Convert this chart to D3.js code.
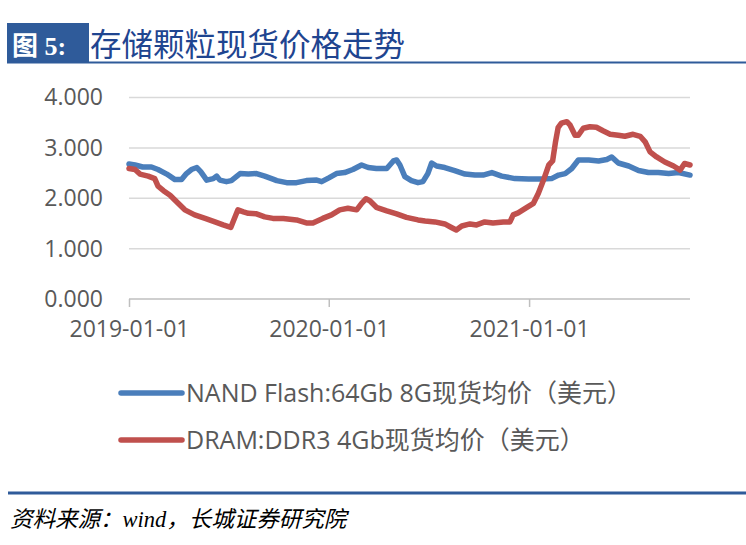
<!DOCTYPE html>
<html>
<head>
<meta charset="utf-8">
<script src="https://cdn.jsdelivr.net/npm/d3@7.9.0/dist/d3.min.js"></script>
<style>
  html, body { margin: 0; padding: 0; background: #fff; }
  svg { display: block; }
</style>
</head>
<body>
<svg id="chart"></svg>
<script>
// NAND Flash 64Gb 8G spot price (USD)
const nandDates = ['2019-01-01','2019-01-12','2019-01-26','2019-02-11','2019-02-23','2019-03-11','2019-03-26','2019-04-07','2019-04-16','2019-04-25','2019-05-05','2019-05-12','2019-05-23','2019-06-04','2019-06-10','2019-06-16','2019-06-28','2019-07-07','2019-07-23','2019-08-07','2019-08-22','2019-09-06','2019-09-21','2019-09-28','2019-10-16','2019-11-03','2019-11-21','2019-12-10','2019-12-19','2020-01-02','2020-01-15','2020-01-30','2020-02-14','2020-03-01','2020-03-13','2020-03-28','2020-04-16','2020-04-28','2020-05-04','2020-05-10','2020-05-19','2020-05-31','2020-06-12','2020-06-21','2020-06-30','2020-07-07','2020-07-16','2020-07-31','2020-08-18','2020-09-06','2020-09-24','2020-10-09','2020-10-25','2020-11-12','2020-12-06','2020-12-31','2021-01-24','2021-02-11','2021-02-24','2021-03-08','2021-03-20','2021-04-01','2021-04-20','2021-05-08','2021-05-23','2021-06-01','2021-06-13','2021-07-02','2021-07-20','2021-08-07','2021-08-25','2021-09-13','2021-10-01','2021-10-22'];
const nandValues = [2.68,2.66,2.62,2.62,2.57,2.48,2.37,2.37,2.49,2.57,2.61,2.53,2.36,2.39,2.44,2.36,2.33,2.35,2.49,2.48,2.49,2.44,2.38,2.35,2.31,2.31,2.35,2.36,2.33,2.41,2.49,2.51,2.57,2.66,2.61,2.59,2.59,2.74,2.76,2.66,2.43,2.35,2.31,2.33,2.49,2.70,2.64,2.61,2.55,2.48,2.46,2.46,2.51,2.44,2.39,2.38,2.38,2.39,2.46,2.49,2.59,2.76,2.76,2.74,2.77,2.82,2.70,2.64,2.55,2.51,2.51,2.49,2.51,2.46];

// DRAM DDR3 4Gb spot price (USD)
const dramDates = ['2019-01-01','2019-01-12','2019-01-21','2019-02-05','2019-02-17','2019-02-23','2019-03-05','2019-03-17','2019-03-29','2019-04-13','2019-05-01','2019-05-20','2019-06-07','2019-06-22','2019-07-06','2019-07-10','2019-07-19','2019-07-29','2019-08-07','2019-08-22','2019-09-06','2019-09-21','2019-10-10','2019-11-03','2019-11-21','2019-12-03','2019-12-21','2020-01-06','2020-01-21','2020-02-05','2020-02-21','2020-03-01','2020-03-09','2020-03-16','2020-03-28','2020-04-16','2020-05-04','2020-05-22','2020-06-12','2020-06-25','2020-07-13','2020-07-31','2020-08-12','2020-08-21','2020-08-31','2020-09-15','2020-09-27','2020-10-12','2020-10-27','2020-11-15','2020-11-27','2020-12-03','2020-12-12','2020-12-28','2021-01-09','2021-01-18','2021-01-27','2021-02-06','2021-02-13','2021-02-18','2021-02-23','2021-03-01','2021-03-11','2021-03-17','2021-03-26','2021-04-01','2021-04-10','2021-04-22','2021-05-04','2021-05-16','2021-05-29','2021-06-13','2021-06-25','2021-07-10','2021-07-23','2021-08-01','2021-08-10','2021-08-22','2021-09-06','2021-09-22','2021-10-04','2021-10-12','2021-10-22'];
const dramValues = [2.59,2.57,2.48,2.44,2.39,2.24,2.15,2.06,1.93,1.77,1.67,1.60,1.53,1.47,1.42,1.53,1.77,1.73,1.70,1.69,1.63,1.60,1.60,1.57,1.51,1.51,1.60,1.67,1.77,1.80,1.77,1.90,1.99,1.95,1.82,1.75,1.69,1.62,1.57,1.55,1.53,1.49,1.42,1.37,1.45,1.49,1.47,1.53,1.51,1.53,1.53,1.67,1.71,1.82,1.90,2.10,2.35,2.66,2.74,3.10,3.40,3.49,3.52,3.45,3.25,3.25,3.39,3.42,3.41,3.34,3.27,3.25,3.23,3.27,3.23,3.12,2.92,2.82,2.72,2.64,2.56,2.69,2.66];

const yTicks = [0, 1, 2, 3, 4];
const xTickLabels = ['2019-01-01', '2020-01-01', '2021-01-01'];
const seriesNames = ['NAND Flash:64Gb 8G现货均价（美元）', 'DRAM:DDR3 4Gb现货均价（美元）'];
const seriesColors = ['#4a7ebb', '#c0504d'];
const titleTag = '图 5:';
const titleText = '存储颗粒现货价格走势';
const sourceText = '资料来源：wind，长城证券研究院';

const width = 746;
const height = 545;
const margin = { top: 97.5, right: 56, bottom: 246, left: 129 };

const parse = d3.timeParse('%Y-%m-%d');
const nand = nandDates.map((d, i) => ({ date: parse(d), value: nandValues[i] }));
const dram = dramDates.map((d, i) => ({ date: parse(d), value: dramValues[i] }));

const svg = d3.select('#chart')
  .attr('width', width)
  .attr('height', height);

// title bar
svg.append('rect')
  .attr('x', 7).attr('y', 23)
  .attr('width', 82).attr('height', 40)
  .attr('fill', '#2f5b9a');
svg.append('line')
  .attr('x1', 7).attr('x2', width)
  .attr('y1', 62.5).attr('y2', 62.5)
  .attr('stroke', '#2f5b9a')
  .attr('stroke-width', 2);
svg.append('text')
  .attr('x', 12).attr('y', 55)
  .attr('fill', '#fff')
  .attr('font-family', '"Liberation Serif", "Noto Sans CJK SC", serif')
  .attr('font-weight', 'bold')
  .attr('font-size', 26)
  .text(titleTag);
svg.append('text')
  .attr('x', 90).attr('y', 56)
  .attr('fill', '#1f4590')
  .attr('font-family', '"Noto Sans CJK SC", sans-serif')
  .attr('font-size', 31.5)
  .text(titleText);

// scales
const x = d3.scaleTime()
  .domain([parse('2019-01-01'), parse('2021-10-22')])
  .range([margin.left, 690]);
const y = d3.scaleLinear()
  .domain([0, 4])
  .range([height - margin.bottom, margin.top]);

// gridlines
svg.append('g')
  .selectAll('line')
  .data(yTicks.filter(t => t > 0))
  .join('line')
    .attr('x1', margin.left).attr('x2', 690)
    .attr('y1', d => y(d)).attr('y2', d => y(d))
    .attr('stroke', '#d9d9d9')
    .attr('stroke-width', 1.5);

// y axis labels
const yAxis = d3.axisLeft(y)
  .tickValues(yTicks)
  .tickFormat(d3.format('.3f'))
  .tickSize(0)
  .tickPadding(26);
svg.append('g')
  .attr('class', 'y axis')
  .attr('transform', `translate(${margin.left}, 0)`)
  .call(yAxis)
  .call(g => g.select('.domain').remove())
  .call(g => g.selectAll('text')
    .attr('font-family', '"Open Sans", sans-serif')
    .attr('font-size', 23)
    .attr('fill', '#595959'));

// x axis
const xAxis = d3.axisBottom(x)
  .tickValues(xTickLabels.map(parse))
  .tickFormat(d3.timeFormat('%Y-%m-%d'))
  .tickSize(8)
  .tickPadding(14);
svg.append('g')
  .attr('class', 'x axis')
  .attr('transform', `translate(0, ${y(0)})`)
  .call(xAxis)
  .call(g => g.select('.domain')
    .attr('d', `M${margin.left},0H690`)
    .attr('stroke', '#bfbfbf')
    .attr('stroke-width', 1.5))
  .call(g => g.selectAll('.tick line')
    .attr('stroke', '#bfbfbf')
    .attr('stroke-width', 1.5))
  .call(g => g.selectAll('text')
    .attr('font-family', '"Open Sans", sans-serif')
    .attr('font-size', 23)
    .attr('fill', '#595959'));

// lines
const line = d3.line()
  .x(d => x(d.date))
  .y(d => y(d.value))
  .curve(d3.curveLinear);

[nand, dram].forEach((s, i) => {
  svg.append('path')
    .datum(s)
    .attr('fill', 'none')
    .attr('stroke', seriesColors[i])
    .attr('stroke-width', 5.5)
    .attr('stroke-linejoin', 'round')
    .attr('stroke-linecap', 'round')
    .attr('d', line);
});

// legend
const legend = svg.append('g')
  .selectAll('g')
  .data(seriesNames)
  .join('g')
    .attr('transform', (d, i) => `translate(0, ${393 + i * 47})`);
legend.append('line')
  .attr('x1', 121).attr('x2', 182)
  .attr('stroke', (d, i) => seriesColors[i])
  .attr('stroke-width', 5.5)
  .attr('stroke-linecap', 'round');
legend.append('text')
  .attr('x', 186)
  .attr('dy', '0.35em')
  .attr('font-family', '"Open Sans", "Noto Sans CJK SC", sans-serif')
  .attr('font-size', 25)
  .attr('fill', '#595959')
  .text(d => d);

// footer
svg.append('line')
  .attr('x1', 8).attr('x2', width)
  .attr('y1', 493).attr('y2', 493)
  .attr('stroke', '#2f5b9a')
  .attr('stroke-width', 3);
svg.append('text')
  .attr('x', 10).attr('y', 527)
  .attr('font-family', '"Liberation Serif", "Noto Sans CJK SC", serif')
  .attr('font-style', 'italic')
  .attr('font-size', 22.5)
  .attr('fill', '#000')
  .text(sourceText);
</script>
</body>
</html>
